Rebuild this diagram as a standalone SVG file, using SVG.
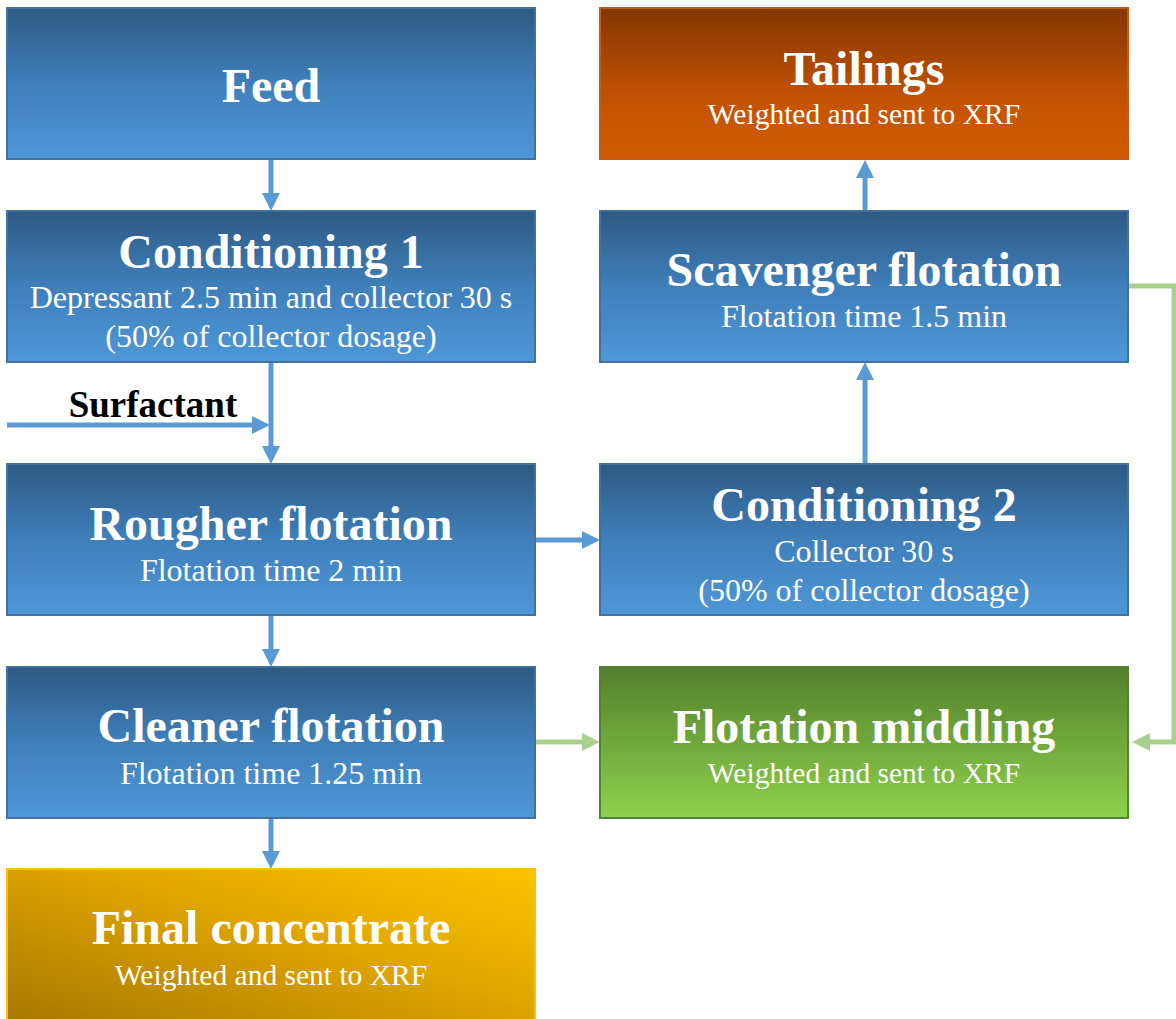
<svg xmlns="http://www.w3.org/2000/svg" width="1176" height="1019" viewBox="0 0 1176 1019">
<defs>
<linearGradient id="gBlue" x1="0" y1="0" x2="0" y2="1"><stop offset="0" stop-color="#2d5a84"/><stop offset="0.5" stop-color="#3f7fba"/><stop offset="1" stop-color="#4f97d8"/></linearGradient>
<linearGradient id="gOrange" x1="0" y1="0" x2="0" y2="1"><stop offset="0" stop-color="#853502"/><stop offset="0.6" stop-color="#c35304"/><stop offset="1" stop-color="#d35b02"/></linearGradient>
<linearGradient id="gGreen" x1="0" y1="0" x2="0" y2="1"><stop offset="0" stop-color="#527f2d"/><stop offset="1" stop-color="#8fd24c"/></linearGradient>
<linearGradient id="gGold" x1="0" y1="1" x2="1" y2="0"><stop offset="0" stop-color="#a67600"/><stop offset="0.6" stop-color="#e2a800"/><stop offset="1" stop-color="#fdc400"/></linearGradient>
<marker id="aBlue" markerUnits="userSpaceOnUse" markerWidth="19" markerHeight="19" refX="3" refY="9" orient="auto"><path d="M0,0 L18,9 L0,18 z" fill="#5b9bd5"/></marker>
<marker id="aGreen" markerUnits="userSpaceOnUse" markerWidth="19" markerHeight="19" refX="3" refY="9" orient="auto"><path d="M0,0 L18,9 L0,18 z" fill="#a9d18e"/></marker>
</defs>
<style>
.blue{fill:url(#gBlue);stroke:#41719c;stroke-width:2}
.orange{fill:url(#gOrange);stroke:#c55a11;stroke-width:2}
.green{fill:url(#gGreen);stroke:#548235;stroke-width:2}
.gold{fill:url(#gGold);stroke:#ffc000;stroke-width:2}
.t{font-family:"Liberation Serif","Times New Roman",serif;font-weight:bold;font-size:48px;fill:#fff;text-anchor:middle}
.s{font-family:"Liberation Serif","Times New Roman",serif;font-size:32px;fill:#fff;text-anchor:middle}
.w{font-family:"Liberation Serif","Times New Roman",serif;font-size:29.5px;fill:#fff;text-anchor:middle}
.cb{fill:none;stroke:#5b9bd5;stroke-width:5;marker-end:url(#aBlue)}
.cg{fill:none;stroke:#a9d18e;stroke-width:5;marker-end:url(#aGreen)}
.lab{font-family:"Liberation Serif","Times New Roman",serif;font-weight:bold;font-size:37px;fill:#000}
</style>
<rect width="1176" height="1019" fill="#fff"/>
<g id="connectors">
<path class="cb" d="M271,160 V196"/>
<path class="cb" d="M271,363 V449"/>
<path class="cb" d="M7,425 H255"/>
<path class="cb" d="M271,616 V652"/>
<path class="cb" d="M271,819 V854"/>
<path class="cb" d="M536,540 H585"/>
<path class="cb" d="M865,464 V377"/>
<path class="cb" d="M865,211 V175"/>
<path class="cg" d="M536,742 H585"/>
<path class="cg" d="M1129,286 H1174 V742 H1147"/>
<text class="lab" x="153" y="417" text-anchor="middle">Surfactant</text>
</g>
<g id="feed"><rect class="blue" x="7" y="8" width="528" height="151"/><text class="t" x="271" y="102">Feed</text></g>
<g id="conditioning1"><rect class="blue" x="7" y="211" width="528" height="151"/><text class="t" x="271" y="268">Conditioning 1</text><text class="s" x="271" y="308">Depressant 2.5 min and collector 30 s</text><text class="s" x="271" y="347">(50% of collector dosage)</text></g>
<g id="rougher"><rect class="blue" x="7" y="464" width="528" height="151"/><text class="t" x="271" y="540">Rougher flotation</text><text class="s" x="271" y="581">Flotation time 2 min</text></g>
<g id="cleaner"><rect class="blue" x="7" y="667" width="528" height="151"/><text class="t" x="271" y="742">Cleaner flotation</text><text class="s" x="271" y="784">Flotation time 1.25 min</text></g>
<g id="final"><rect class="gold" x="7" y="869" width="528" height="160"/><text class="t" x="271" y="944">Final concentrate</text><text class="w" x="271" y="985">Weighted and sent to XRF</text></g>
<g id="tailings"><rect class="orange" x="600" y="8" width="528" height="151"/><text class="t" x="864" y="85">Tailings</text><text class="w" x="864" y="124">Weighted and sent to XRF</text></g>
<g id="scavenger"><rect class="blue" x="600" y="211" width="528" height="151"/><text class="t" x="864" y="286">Scavenger flotation</text><text class="s" x="864" y="327">Flotation time 1.5 min</text></g>
<g id="conditioning2"><rect class="blue" x="600" y="464" width="528" height="151"/><text class="t" x="864" y="521">Conditioning 2</text><text class="s" x="864" y="562">Collector 30 s</text><text class="s" x="864" y="601">(50% of collector dosage)</text></g>
<g id="middling"><rect class="green" x="600" y="667" width="528" height="151"/><text class="t" x="864" y="743">Flotation middling</text><text class="w" x="864" y="783">Weighted and sent to XRF</text></g>
</svg>
